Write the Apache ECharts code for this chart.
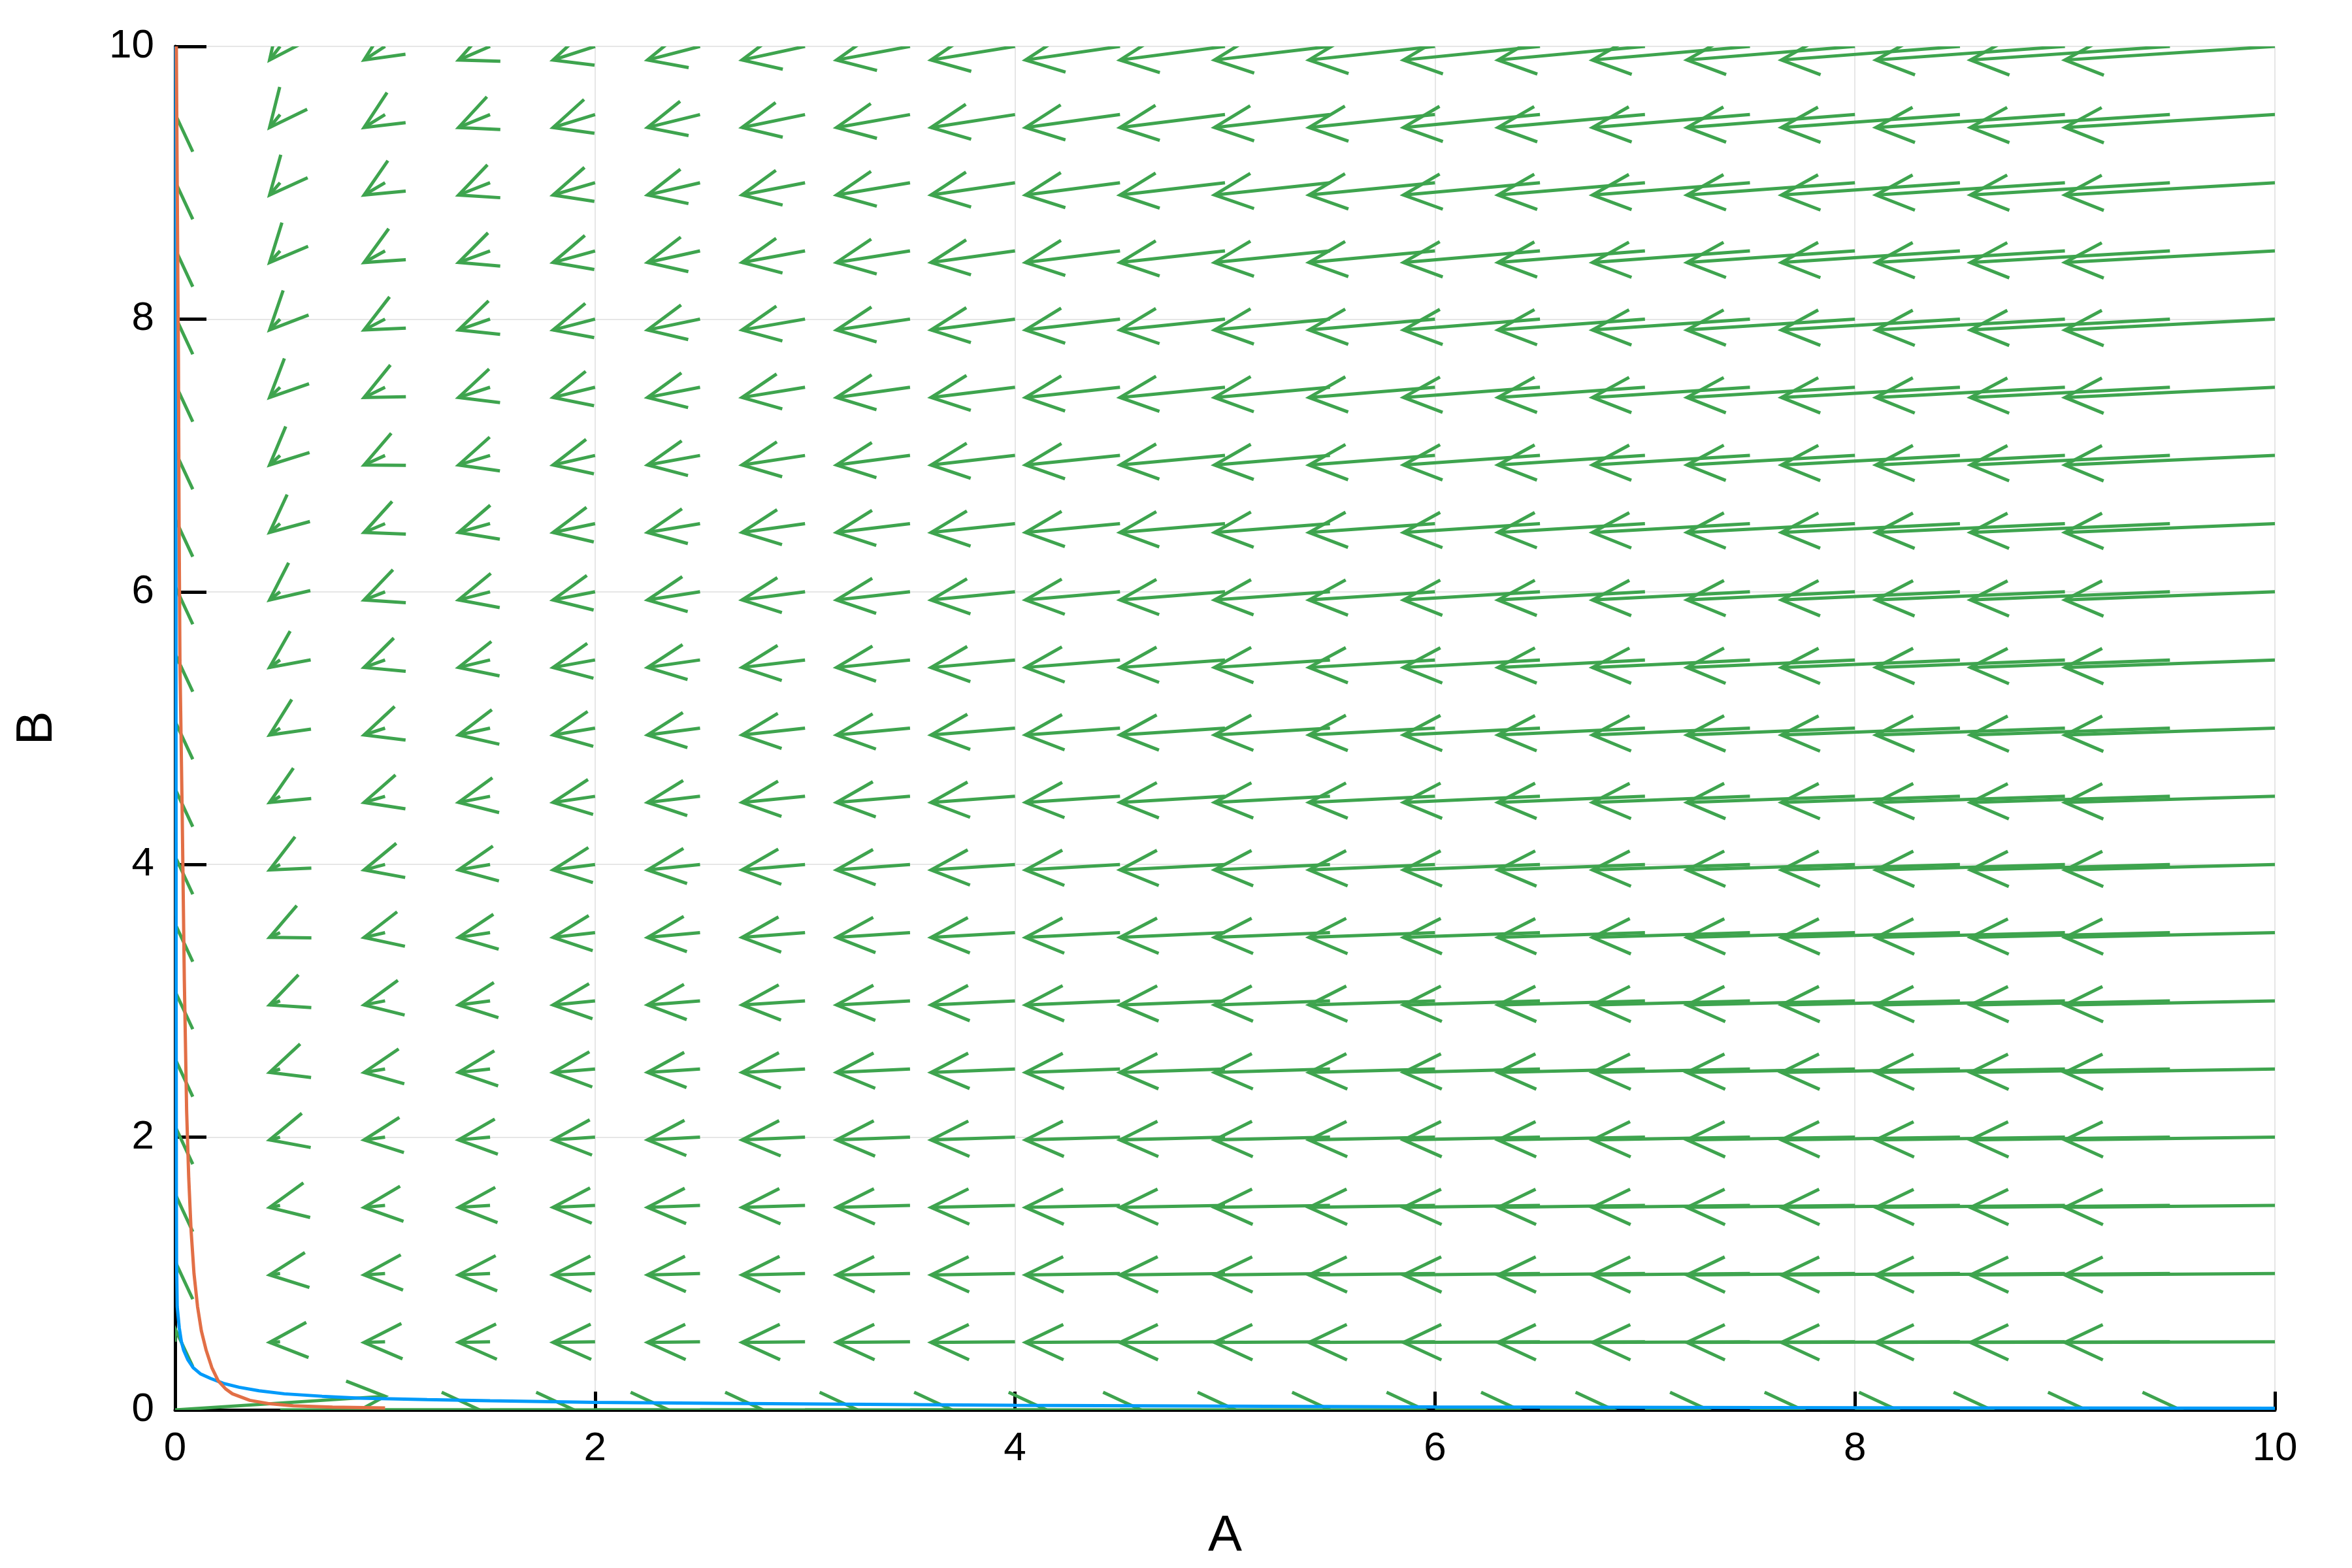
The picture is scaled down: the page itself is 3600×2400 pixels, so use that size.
<!DOCTYPE html>
<html>
<head>
<meta charset="utf-8">
<script src="https://cdn.jsdelivr.net/npm/echarts@6/dist/echarts.min.js"></script>
<style>
  html, body { margin: 0; padding: 0; background: #ffffff; }
  #chart { width: 3600px; height: 2400px; }
</style>
</head>
<body>
<div id="chart"></div>
<script>
// grid of arrow tails
const gridA = [0, 0.5, 1, 1.5, 2, 2.5, 3, 3.5, 4, 4.5, 5, 5.5, 6, 6.5, 7, 7.5, 8, 8.5, 9, 9.5, 10];
const gridB = [0, 0.5, 1, 1.5, 2, 2.5, 3, 3.5, 4, 4.5, 5, 5.5, 6, 6.5, 7, 7.5, 8, 8.5, 9, 9.5, 10];

// arrow components
// dA for every column (rows B > 0)
const duByA = [0, -0.05, -0.1, -0.15, -0.2, -0.25, -0.3, -0.35, -0.4, -0.45, -0.5,
  -0.55, -0.6, -0.65, -0.7, -0.75, -0.8, -0.85, -0.9, -0.95, -1.0];
// dA along the bottom row (B = 0)
const duBottom = [1.0, 0.95, 0.9, 0.85, 0.8, 0.75, 0.7, 0.65, 0.6, 0.55, 0.5,
  0.45, 0.4, 0.35, 0.3, 0.25, 0.2, 0.15, 0.1, 0.05, 0];
// dB for every row (columns A > 0)
const dvByB = [0, -0.005, -0.01, -0.015, -0.02, -0.025, -0.03, -0.035, -0.04, -0.045, -0.05,
  -0.055, -0.06, -0.065, -0.07, -0.075, -0.08, -0.085, -0.09, -0.095, -0.1];
// dB along the left column (A = 0)
const dvLeft = [0.1, 0.095, 0.09, 0.085, 0.08, 0.075, 0.07, 0.065, 0.06, 0.055, 0.05,
  0.045, 0.04, 0.035, 0.03, 0.025, 0.02, 0.015, 0.01, 0.005, 0];

// curves (A, B)
const blueCurve = [
  [0.003, 10], [0.004, 6], [0.005, 3], [0.006, 1.6], [0.007, 1.08], [0.01, 0.757],
  [0.02, 0.6], [0.03, 0.5], [0.041, 0.437], [0.06, 0.37], [0.086, 0.31], [0.12, 0.265],
  [0.17, 0.23], [0.23, 0.195], [0.305, 0.166], [0.4, 0.14], [0.52, 0.118], [0.7, 0.1],
  [0.876, 0.086], [1.2, 0.075], [1.5, 0.067], [2.0, 0.055], [2.6, 0.048], [4, 0.033],
  [6, 0.022], [8, 0.016], [10, 0.012]
];
const orangeCurve = [
  [0.006, 10], [0.01, 9.0], [0.013, 8.3], [0.016, 7.7], [0.019, 6.5], [0.023, 5.5],
  [0.034, 4.35], [0.044, 3.15], [0.055, 2.19], [0.065, 1.7], [0.076, 1.32], [0.09, 1.0],
  [0.107, 0.757], [0.125, 0.58], [0.148, 0.437], [0.175, 0.31], [0.205, 0.214],
  [0.24, 0.155], [0.273, 0.118], [0.356, 0.07], [0.45, 0.045], [0.563, 0.03],
  [0.75, 0.02], [1.0, 0.014]
];

const green = '#3ea44e';
const font = 'Liberation Sans';

const arrows = [];
gridB.forEach(function (b, j) {
  gridA.forEach(function (a, i) {
    const u = j === 0 ? duBottom[i] : duByA[i];
    const v = i === 0 ? dvLeft[j] : dvByB[j];
    arrows.push([a, b, u, v]);
  });
});

function renderArrow(params, api) {
  const a = api.value(0), b = api.value(1), u = api.value(2), v = api.value(3);
  const tail = api.coord([a, b]);
  const tip = api.coord([a + u, b + v]);
  const dx = tail[0] - tip[0], dy = tail[1] - tip[1];
  const len = Math.sqrt(dx * dx + dy * dy);
  if (len < 0.5) return null;
  const ux = dx / len, uy = dy / len;
  const ang = 25 * Math.PI / 180, L = 64;
  const c = Math.cos(ang), s = Math.sin(ang);
  const w1 = [tip[0] + L * (ux * c - uy * s), tip[1] + L * (ux * s + uy * c)];
  const w2 = [tip[0] + L * (ux * c + uy * s), tip[1] + L * (-ux * s + uy * c)];
  const style = { stroke: green, lineWidth: 5, fill: null, lineJoin: 'miter' };
  return {
    type: 'group',
    children: [
      { type: 'polyline', shape: { points: [tail, tip] }, style: style },
      { type: 'polyline', shape: { points: [w1, tip, w2] }, style: style }
    ]
  };
}

const chart = echarts.init(document.getElementById('chart'));
chart.setOption({
  animation: false,
  backgroundColor: '#ffffff',
  grid: { left: 268, right: 118, top: 71, bottom: 242 },
  xAxis: {
    type: 'value', min: 0, max: 10, interval: 2,
    name: 'A', nameLocation: 'middle', nameGap: 155,
    nameTextStyle: { fontSize: 78, color: '#000', fontFamily: font },
    axisLine: { show: true, onZero: false, lineStyle: { color: '#000', width: 5 } },
    axisTick: { show: true, inside: true, length: 28, lineStyle: { color: '#000', width: 5 } },
    axisLabel: { fontSize: 62, color: '#000', margin: 29, fontFamily: font },
    splitLine: { show: true, lineStyle: { color: '#e6e6e6', width: 2 } }
  },
  yAxis: {
    type: 'value', min: 0, max: 10, interval: 2,
    name: 'B', nameLocation: 'middle', nameGap: 172, nameRotate: 90,
    nameTextStyle: { fontSize: 78, color: '#000', fontFamily: font },
    axisLine: { show: true, onZero: false, lineStyle: { color: '#000', width: 5 } },
    axisTick: { show: true, inside: true, length: 48, lineStyle: { color: '#000', width: 5 } },
    axisLabel: { fontSize: 62, color: '#000', margin: 32, fontFamily: font },
    splitLine: { show: true, lineStyle: { color: '#e6e6e6', width: 2 } }
  },
  series: [
    {
      type: 'line', data: blueCurve, showSymbol: false, silent: true,
      lineStyle: { color: '#009afa', width: 5 }
    },
    {
      type: 'line', data: orangeCurve, showSymbol: false, silent: true,
      lineStyle: { color: '#e26f46', width: 5 }
    },
    {
      type: 'custom', data: arrows, renderItem: renderArrow, clip: true, silent: true,
      encode: { x: 0, y: 1 }
    }
  ]
});
</script>
</body>
</html>
